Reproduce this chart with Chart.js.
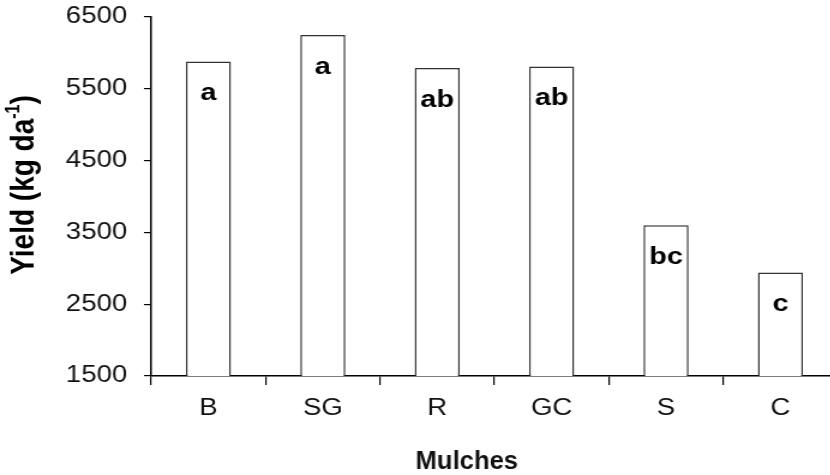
<!DOCTYPE html>
<html>
<head>
<meta charset="utf-8">
<script src="https://cdn.jsdelivr.net/npm/chart.js@4.4.1/dist/chart.umd.min.js"></script>
<style>
html, body { margin: 0; padding: 0; background: #fff; overflow: hidden; width: 830px; height: 475px; }
/* the reference is a horizontally stretched figure, so draw narrower and stretch */
#wrap { width: 704px; height: 475px; transform: scaleX(1.2); transform-origin: 0 0; }
</style>
</head>
<body>
<div id="wrap"><canvas id="chart" width="704" height="475"></canvas></div>
<script>
const mulches = ["B", "SG", "R", "GC", "S", "C"];
const yieldValues = [5880, 6250, 5790, 5810, 3600, 2940];
const groupLetters = ["a", "a", "ab", "ab", "bc", "c"];
const yTicks = [1500, 2500, 3500, 4500, 5500, 6500];

const FONT = '"Liberation Sans", Arial, sans-serif';

// letters of mean separation, inside the top of each bar
const letterPlugin = {
  id: "letters",
  afterDatasetsDraw(chart) {
    const ctx = chart.ctx;
    const meta = chart.getDatasetMeta(0);
    ctx.save();
    ctx.font = "bold 24px " + FONT;
    ctx.fillStyle = "#000";
    ctx.textAlign = "center";
    ctx.textBaseline = "middle";
    meta.data.forEach((bar, i) => {
      ctx.fillText(groupLetters[i], bar.x, bar.y + 32);
    });
    ctx.restore();
  }
};

// axis titles: y one has a superscript, x one is a bit condensed
const titlePlugin = {
  id: "titles",
  afterDraw(chart) {
    const ctx = chart.ctx;
    const main = "Yield (kg da";
    const sup = "-1";
    const close = ")";
    ctx.save();
    ctx.translate(19, 185);
    ctx.rotate(-Math.PI / 2);
    ctx.fillStyle = "#000";
    ctx.textBaseline = "alphabetic";
    ctx.font = "bold 28px " + FONT;
    const w1 = ctx.measureText(main).width;
    const w3 = ctx.measureText(close).width;
    ctx.font = "bold 16px " + FONT;
    const w2 = ctx.measureText(sup).width;
    let x = -(w1 + w2 + w3) / 2;
    const base = 9;
    ctx.font = "bold 28px " + FONT;
    ctx.fillText(main, x, base);
    x += w1;
    ctx.font = "bold 16px " + FONT;
    ctx.fillText(sup, x, base - 12);
    x += w2;
    ctx.font = "bold 28px " + FONT;
    ctx.fillText(close, x, base);
    ctx.restore();

    ctx.save();
    ctx.translate(389, 469);
    ctx.scale(0.82, 1);
    ctx.font = "bold 26px " + FONT;
    ctx.fillStyle = "#111";
    ctx.textAlign = "center";
    ctx.textBaseline = "alphabetic";
    ctx.fillText("Mulches", 0, 0);
    ctx.restore();
  }
};

new Chart(document.getElementById("chart"), {
  type: "bar",
  data: {
    labels: mulches,
    datasets: [{
      data: yieldValues,
      backgroundColor: "#fff",
      borderColor: "#333",
      borderWidth: 1.5,
      categoryPercentage: 1,
      barPercentage: 0.394
    }]
  },
  options: {
    responsive: false,
    devicePixelRatio: 1,
    animation: false,
    layout: { padding: { top: 17, right: 6, left: 0, bottom: 0 } },
    plugins: {
      legend: { display: false },
      tooltip: { enabled: false }
    },
    scales: {
      x: {
        grid: { offset: true, drawOnChartArea: false, tickLength: 9, color: "#000", lineWidth: 1.2 },
        border: { color: "#000", width: 1.5 },
        ticks: { color: "#111", font: { family: FONT, size: 23 }, padding: 10 },
        afterFit: s => { s.height = 99; }
      },
      y: {
        min: 1500,
        max: 6500,
        afterBuildTicks: axis => { axis.ticks = yTicks.map(v => ({ value: v })); },
        grid: { drawOnChartArea: false, tickLength: 6, color: "#000", lineWidth: 1.2 },
        border: { color: "#000", width: 1.5 },
        ticks: { color: "#111", font: { family: FONT, size: 23 }, padding: 14, callback: v => String(v) },
        afterFit: s => { s.width = 126; s.paddingTop = 0; s.paddingBottom = 0; }
      }
    }
  },
  plugins: [letterPlugin, titlePlugin]
});
</script>
</body>
</html>
